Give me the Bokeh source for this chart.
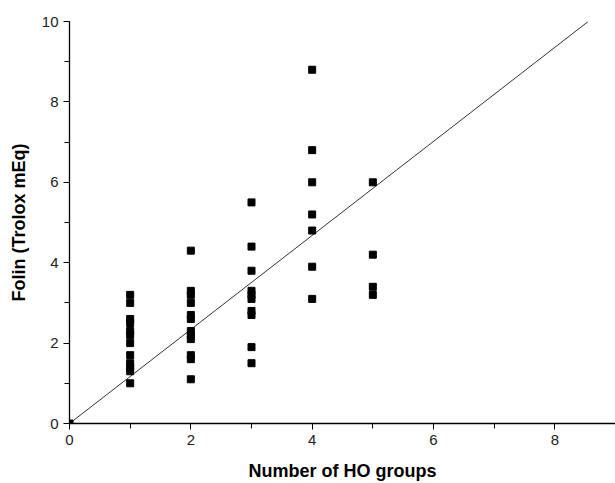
from bokeh.plotting import figure
from bokeh.models import Range1d, SingleIntervalTicker, ColumnDataSource
from bokeh.embed import file_html
from bokeh.resources import INLINE

# Data
ho_groups = [0,
             1, 1, 1, 1, 1, 1, 1, 1, 1, 1, 1, 1,
             2, 2, 2, 2, 2, 2, 2, 2, 2, 2, 2, 2,
             3, 3, 3, 3, 3, 3, 3, 3, 3, 3,
             4, 4, 4, 4, 4, 4, 4,
             5, 5, 5, 5]
folin = [0.0,
         3.2, 3.0, 2.6, 2.5, 2.3, 2.2, 2.0, 1.7, 1.5, 1.4, 1.3, 1.0,
         4.3, 3.3, 3.2, 3.0, 2.7, 2.6, 2.3, 2.2, 2.1, 1.7, 1.6, 1.1,
         5.5, 4.4, 3.8, 3.3, 3.2, 3.1, 2.8, 2.7, 1.9, 1.5,
         8.8, 6.8, 6.0, 5.2, 4.8, 3.9, 3.1,
         6.0, 4.2, 3.4, 3.2]
fit_x = [0.0, 8.55]
fit_y = [0.0, 10.0]

x_label = "Number of HO groups"
y_label = "Folin (Trolox mEq)"

FONT = "Liberation Sans"

p = figure(width=615, height=483, output_backend="svg", toolbar_location=None,
           x_range=Range1d(0, 9.0), y_range=Range1d(0, 10))
p.min_border_left = 69
p.min_border_top = 21
p.min_border_bottom = 59
p.min_border_right = 0
p.outline_line_color = None
p.xgrid.visible = False
p.ygrid.visible = False
p.background_fill_color = "white"
p.border_fill_color = "white"

p.line(fit_x, fit_y, line_color="#333333", line_width=1)
src = ColumnDataSource(dict(x=ho_groups, y=folin))
p.scatter("x", "y", source=src, marker="square", size=7, fill_color="black", line_color="black")

for ax in (p.xaxis[0], p.yaxis[0]):
    ax.ticker = SingleIntervalTicker(interval=2, num_minor_ticks=2)
    ax.axis_line_color = "black"
    ax.axis_line_width = 1.3
    ax.major_tick_line_color = "black"
    ax.minor_tick_line_color = "black"
    ax.major_tick_out = 6
    ax.major_tick_in = 0
    ax.minor_tick_out = 5
    ax.minor_tick_in = 0
    ax.major_label_text_font = FONT
    ax.major_label_text_font_size = "15px"
    ax.major_label_text_color = "#222222"
    ax.axis_label_text_font = FONT
    ax.axis_label_text_font_style = "bold"
    ax.axis_label_text_font_size = "18px"
    ax.axis_label_text_color = "black"

p.xaxis.axis_label = x_label
p.yaxis.axis_label = y_label
p.yaxis.axis_label_standoff = 10
p.xaxis.axis_label_standoff = 13
p.yaxis.major_label_standoff = 5
p.xaxis.major_label_standoff = 5

open("out.html", "w").write(file_html(p, INLINE))
